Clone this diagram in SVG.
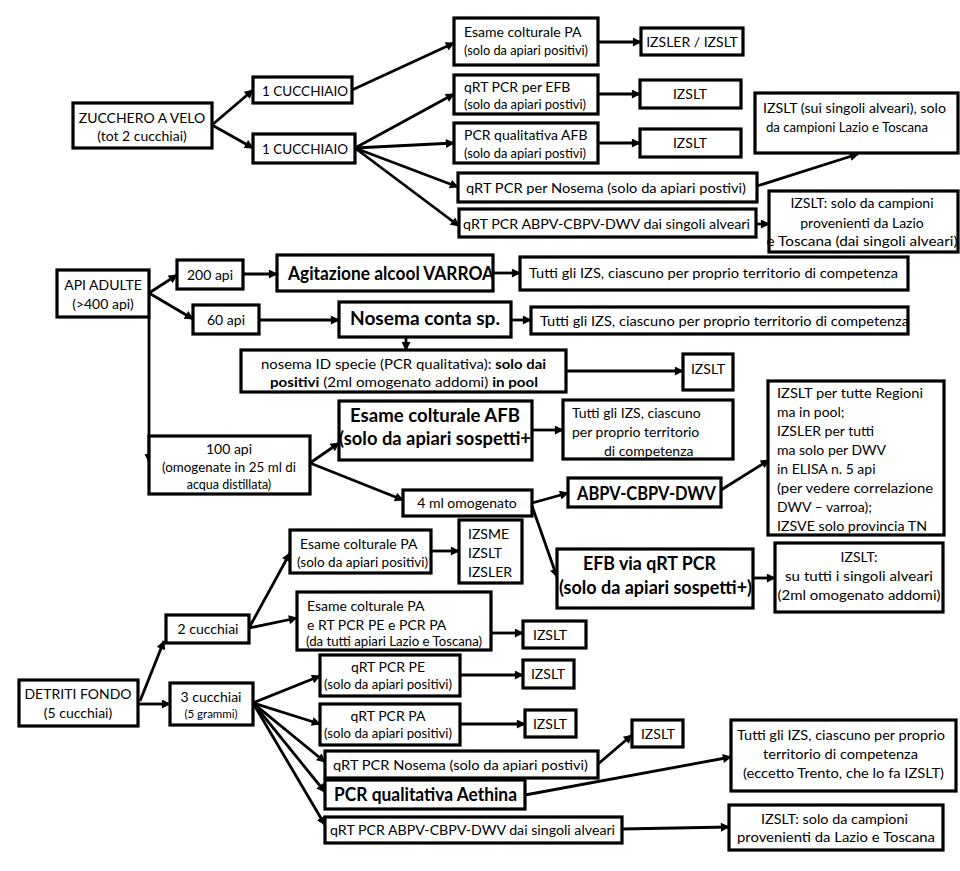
<svg xmlns="http://www.w3.org/2000/svg" width="960" height="871" viewBox="0 0 960 871">
<style>
rect{fill:#fff;stroke:#000;stroke-width:3.2}
text{font-family:Lato,"Liberation Sans",sans-serif;fill:#000;font-size:14px}
.c{text-anchor:middle}
.s{font-size:12.5px}
.xs{font-size:11.5px}
.b{font-weight:bold;font-size:18px}
.cn line{stroke:#000;stroke-width:2.8;marker-end:url(#a)}
</style>
<defs>
<marker id="a" viewBox="0 0 10 10" refX="9" refY="5" markerWidth="10" markerHeight="9" markerUnits="userSpaceOnUse" orient="auto"><path d="M0,0 L10,5 L0,10 z"/></marker>
</defs>
<rect x="0" y="0" width="960" height="871" style="stroke:none"/>
<g class="cn" id="connectors">
<line x1="212" y1="125" x2="253" y2="90"/>
<line x1="212" y1="125" x2="253" y2="148"/>
<line x1="352" y1="90" x2="454" y2="43"/>
<line x1="355" y1="148" x2="454" y2="94"/>
<line x1="355" y1="148" x2="454" y2="143"/>
<line x1="355" y1="148" x2="458" y2="187"/>
<line x1="355" y1="148" x2="459" y2="226"/>
<line x1="598" y1="42" x2="641" y2="42"/>
<line x1="598" y1="94" x2="640" y2="94"/>
<line x1="598" y1="143" x2="640" y2="143"/>
<line x1="757" y1="186" x2="858" y2="154"/>
<line x1="756" y1="224" x2="769" y2="224"/>
<line x1="149" y1="293" x2="177" y2="275"/>
<line x1="149" y1="293" x2="193" y2="319"/>
<line x1="149" y1="317" x2="149" y2="462"/>
<line x1="243" y1="274" x2="277" y2="274"/>
<line x1="259" y1="320" x2="339" y2="320"/>
<line x1="493" y1="273" x2="520" y2="273"/>
<line x1="511" y1="320" x2="531" y2="320"/>
<line x1="406" y1="337" x2="406" y2="350"/>
<line x1="566" y1="371" x2="683" y2="371"/>
<line x1="310" y1="463" x2="339" y2="443"/>
<line x1="310" y1="463" x2="403" y2="500"/>
<line x1="532" y1="430" x2="563" y2="430"/>
<line x1="532" y1="503" x2="568" y2="493"/>
<line x1="532" y1="506" x2="557" y2="577"/>
<line x1="721" y1="490" x2="769" y2="460"/>
<line x1="753" y1="578" x2="775" y2="578"/>
<line x1="431" y1="551" x2="459" y2="551"/>
<line x1="249" y1="628" x2="290" y2="553"/>
<line x1="249" y1="628" x2="297" y2="618"/>
<line x1="491" y1="633" x2="523" y2="633"/>
<line x1="140" y1="701" x2="164" y2="641"/>
<line x1="138" y1="704" x2="170" y2="704"/>
<line x1="253" y1="703" x2="320" y2="676"/>
<line x1="253" y1="703" x2="320" y2="724"/>
<line x1="253" y1="703" x2="325" y2="762"/>
<line x1="253" y1="703" x2="325" y2="792"/>
<line x1="253" y1="703" x2="325" y2="825"/>
<line x1="460" y1="675" x2="523" y2="675"/>
<line x1="460" y1="724" x2="525" y2="724"/>
<line x1="598" y1="764" x2="632" y2="735"/>
<line x1="525" y1="795" x2="731" y2="757"/>
<line x1="622" y1="829" x2="729" y2="827"/>
</g>
<g id="zucchero"><rect x="73" y="103" width="139" height="45"/><text class="c" x="142" y="123">ZUCCHERO A VELO</text><text class="c" x="142" y="141">(tot 2 cucchiai)</text></g>
<g id="cucchiaio1"><rect x="253" y="77" width="99" height="26"/><text x="262" y="96" textLength="86" lengthAdjust="spacingAndGlyphs">1 CUCCHIAIO</text></g>
<g id="cucchiaio2"><rect x="253" y="134" width="102" height="29"/><text x="262" y="154" textLength="86" lengthAdjust="spacingAndGlyphs">1 CUCCHIAIO</text></g>
<g id="esamePA1"><rect x="454" y="18" width="144" height="47"/><text x="464" y="37">Esame colturale PA</text><text class="s" x="464" y="55" textLength="124" lengthAdjust="spacingAndGlyphs">(solo  da apiari positivi)</text></g>
<g id="efb1"><rect x="454" y="75" width="144" height="39"/><text x="464" y="92">qRT PCR per  EFB</text><text class="s" x="464" y="109" textLength="122" lengthAdjust="spacingAndGlyphs">(solo  da apiari postivi)</text></g>
<g id="afb1"><rect x="454" y="123" width="144" height="40"/><text x="464" y="140">PCR qualitativa AFB</text><text class="s" x="464" y="158" textLength="122" lengthAdjust="spacingAndGlyphs">(solo  da apiari postivi)</text></g>
<g id="nosema1"><rect x="458" y="173" width="299" height="29"/><text x="466" y="193" textLength="280" lengthAdjust="spacingAndGlyphs">qRT PCR per  Nosema (solo da apiari postivi)</text></g>
<g id="abpv1"><rect x="459" y="209" width="297" height="28"/><text x="463" y="229" textLength="287" lengthAdjust="spacingAndGlyphs">qRT PCR ABPV-CBPV-DWV dai singoli alveari</text></g>
<g id="izs1"><rect x="641" y="28" width="102" height="27"/><text class="c" x="692" y="47">IZSLER / IZSLT</text></g>
<g id="izs2"><rect x="640" y="80" width="101" height="28"/><text class="c" x="690" y="99">IZSLT</text></g>
<g id="izs3"><rect x="640" y="129" width="101" height="28"/><text class="c" x="690" y="148">IZSLT</text></g>
<g id="izs4"><rect x="755" y="93" width="203" height="60"/><text x="763" y="113" textLength="183" lengthAdjust="spacingAndGlyphs">IZSLT (sui singoli alveari), solo</text><text x="766" y="132" textLength="162" lengthAdjust="spacingAndGlyphs">da campioni Lazio e Toscana</text></g>
<g id="izs5"><rect x="769" y="191" width="189" height="61"/><text class="c" x="862" y="208">IZSLT: solo da campioni</text><text class="c" x="862" y="228">provenienti da Lazio</text><text class="c" x="862" y="246" textLength="191" lengthAdjust="spacingAndGlyphs">e Toscana (dai singoli alveari)</text></g>
<g id="apiadulte"><rect x="57" y="270" width="92" height="47"/><text class="c" x="103" y="290">API ADULTE</text><text class="c" x="103" y="309">(&gt;400 api)</text></g>
<g id="api200"><rect x="177" y="260" width="66" height="29"/><text class="c" x="210" y="280">200 api</text></g>
<g id="api60"><rect x="193" y="305" width="66" height="29"/><text class="c" x="226" y="325">60 api</text></g>
<g id="varroa"><rect x="277" y="255" width="216" height="36"/><text class="b" x="288" y="280" textLength="206" lengthAdjust="spacingAndGlyphs">Agitazione alcool VARROA</text></g>
<g id="tutti1"><rect x="520" y="257" width="388" height="33"/><text x="529" y="278" textLength="369" lengthAdjust="spacingAndGlyphs">Tutti gli IZS, ciascuno per proprio  territorio  di competenza</text></g>
<g id="nosemaconta"><rect x="339" y="302" width="172" height="35"/><text class="b" x="350" y="325" textLength="150" lengthAdjust="spacingAndGlyphs">Nosema conta sp.</text></g>
<g id="tutti2"><rect x="531" y="307" width="377" height="27"/><text x="540" y="326" textLength="369" lengthAdjust="spacingAndGlyphs">Tutti gli IZS, ciascuno per proprio  territorio  di competenza</text></g>
<g id="nosemaid"><rect x="241" y="350" width="325" height="42"/><text x="261" y="369" textLength="285" lengthAdjust="spacingAndGlyphs">nosema ID specie (PCR qualitativa): <tspan font-weight="bold">solo dai</tspan></text><text x="270" y="387" textLength="268" lengthAdjust="spacingAndGlyphs"><tspan font-weight="bold">positivi</tspan> (2ml omogenato  addomi) <tspan font-weight="bold">in pool</tspan></text></g>
<g id="izs6"><rect x="683" y="354" width="50" height="36"/><text class="c" x="708" y="374">IZSLT</text></g>
<g id="afb2"><rect x="339" y="401" width="193" height="59"/><text class="b" x="350" y="422" textLength="170" lengthAdjust="spacingAndGlyphs">Esame colturale AFB</text><text class="b" x="339" y="445" textLength="192" lengthAdjust="spacingAndGlyphs">(solo da apiari sospetti+</text></g>
<g id="tutti3"><rect x="563" y="400" width="170" height="59"/><text x="572" y="418">Tutti gli IZS, ciascuno</text><text x="572" y="437">per proprio  territorio</text><text x="604" y="456">di competenza</text></g>
<g id="api100"><rect x="149" y="436" width="161" height="58"/><text class="c" x="229" y="454">100 api</text><text class="c" x="229" y="472" style="font-size:12.5px" textLength="134" lengthAdjust="spacingAndGlyphs">(omogenate in 25 ml di</text><text class="c" x="229" y="489" style="font-size:12.5px">acqua distillata)</text></g>
<g id="omogenato"><rect x="403" y="490" width="129" height="26"/><text class="c" x="467" y="508">4 ml omogenato</text></g>
<g id="abpv2"><rect x="568" y="478" width="153" height="29"/><text class="b" x="577" y="500" textLength="139" lengthAdjust="spacingAndGlyphs">ABPV-CBPV-DWV</text></g>
<g id="izs7"><rect x="768" y="381" width="176" height="154"/><text x="777" y="398" textLength="146" lengthAdjust="spacingAndGlyphs">IZSLT per tutte  Regioni</text><text x="777" y="417">ma in pool;</text><text x="777" y="436">IZSLER per tutti</text><text x="777" y="455">ma solo per DWV</text><text x="777" y="474">in ELISA n. 5 api</text><text x="777" y="493" textLength="156" lengthAdjust="spacingAndGlyphs">(per vedere correlazione</text><text x="777" y="512">DWV – varroa);</text><text x="777" y="531" textLength="150" lengthAdjust="spacingAndGlyphs">IZSVE solo provincia TN</text></g>
<g id="efb2"><rect x="557" y="549" width="196" height="59"/><text class="b" x="583" y="570" textLength="133" lengthAdjust="spacingAndGlyphs">EFB via qRT PCR</text><text class="b" x="559" y="594" textLength="193" lengthAdjust="spacingAndGlyphs">(solo da apiari sospetti+)</text></g>
<g id="izs8"><rect x="775" y="543" width="168" height="69"/><text class="c" x="859" y="562">IZSLT:</text><text class="c" x="859" y="581" textLength="148" lengthAdjust="spacingAndGlyphs">su tutti  i singoli alveari</text><text class="c" x="859" y="600" textLength="163" lengthAdjust="spacingAndGlyphs">(2ml omogenato addomi)</text></g>
<g id="esamePA2"><rect x="290" y="530" width="141" height="43"/><text x="300" y="549">Esame colturale PA</text><text class="s" x="297" y="567" textLength="131" lengthAdjust="spacingAndGlyphs">(solo  da apiari positivi)</text></g>
<g id="izs9"><rect x="459" y="520" width="63" height="63"/><text x="468" y="539">IZSME</text><text x="468" y="558">IZSLT</text><text x="468" y="577">IZSLER</text></g>
<g id="esamePA3"><rect x="297" y="592" width="194" height="58"/><text x="307" y="611">Esame colturale PA</text><text x="307" y="630">e RT PCR PE e PCR PA</text><text class="s" x="306" y="646" textLength="176" lengthAdjust="spacingAndGlyphs">(da tutti apiari Lazio e Toscana)</text></g>
<g id="izs10"><rect x="523" y="621" width="63" height="27"/><text x="533" y="640">IZSLT</text></g>
<g id="cucchiai2"><rect x="166" y="615" width="83" height="28"/><text class="c" x="208" y="634">2 cucchiai</text></g>
<g id="detriti"><rect x="19" y="680" width="119" height="46"/><text class="c" x="78" y="699">DETRITI FONDO</text><text class="c" x="78" y="718">(5 cucchiai)</text></g>
<g id="cucchiai3"><rect x="170" y="683" width="83" height="42"/><text class="c" x="211" y="702">3 cucchiai</text><text class="c xs" x="211" y="718">(5 grammi)</text></g>
<g id="pe"><rect x="320" y="655" width="140" height="41"/><text class="c" x="388" y="672">qRT PCR PE</text><text class="c s" x="388" y="689" textLength="128" lengthAdjust="spacingAndGlyphs">(solo  da apiari positivi)</text></g>
<g id="izs11"><rect x="523" y="660" width="51" height="28"/><text class="c" x="548" y="679">IZSLT</text></g>
<g id="pa"><rect x="320" y="704" width="140" height="41"/><text class="c" x="388" y="721">qRT PCR PA</text><text class="c s" x="388" y="738" textLength="128" lengthAdjust="spacingAndGlyphs">(solo  da apiari positivi)</text></g>
<g id="izs12"><rect x="525" y="710" width="51" height="27"/><text class="c" x="550" y="729">IZSLT</text></g>
<g id="nosema2"><rect x="325" y="751" width="273" height="27"/><text x="333" y="770" textLength="255" lengthAdjust="spacingAndGlyphs">qRT PCR Nosema  (solo da apiari postivi)</text></g>
<g id="izs13"><rect x="632" y="720" width="51" height="27"/><text class="c" x="658" y="739">IZSLT</text></g>
<g id="aethina"><rect x="325" y="780" width="200" height="29"/><text class="b" x="334" y="801" textLength="183" lengthAdjust="spacingAndGlyphs">PCR qualitativa Aethina</text></g>
<g id="tutti4"><rect x="731" y="720" width="225" height="71"/><text x="737" y="740" textLength="208" lengthAdjust="spacingAndGlyphs">Tutti gli IZS, ciascuno per proprio</text><text x="763" y="759" textLength="155" lengthAdjust="spacingAndGlyphs">territorio  di competenza</text><text x="743" y="778" textLength="201" lengthAdjust="spacingAndGlyphs">(eccetto Trento, che lo fa IZSLT)</text></g>
<g id="abpv3"><rect x="325" y="817" width="297" height="26"/><text x="330" y="835" textLength="285" lengthAdjust="spacingAndGlyphs">qRT PCR ABPV-CBPV-DWV dai singoli alveari</text></g>
<g id="izs14"><rect x="729" y="805" width="214" height="45"/><text x="761" y="824" textLength="147" lengthAdjust="spacingAndGlyphs">IZSLT: solo da campioni</text><text x="737" y="842" textLength="198" lengthAdjust="spacingAndGlyphs">provenienti  da Lazio e Toscana</text></g>
</svg>
